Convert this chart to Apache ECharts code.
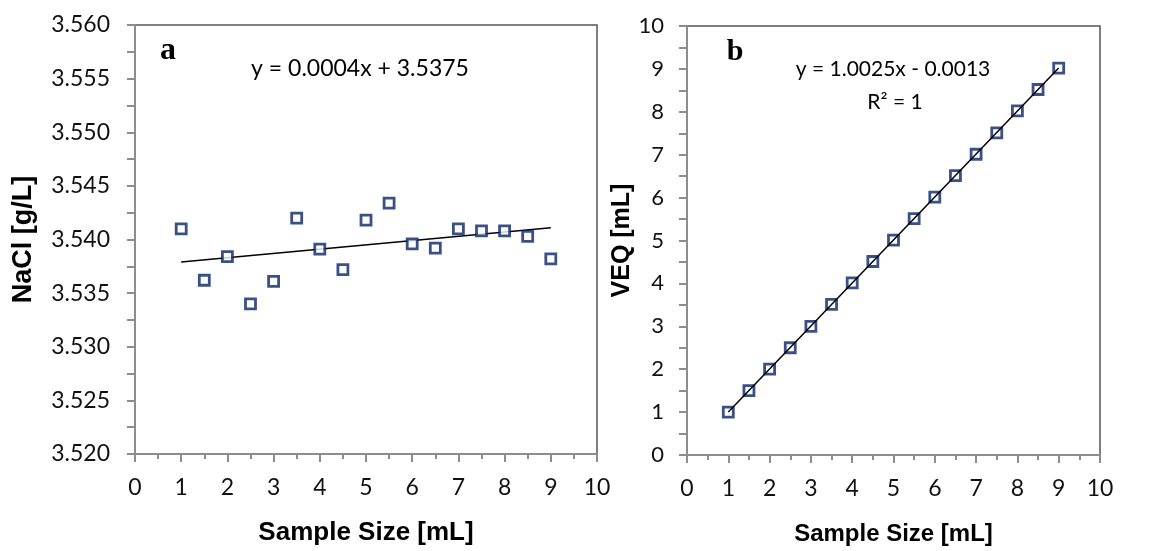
<!DOCTYPE html>
<html><head><meta charset="utf-8">
<script src="https://cdn.jsdelivr.net/npm/echarts@6/dist/echarts.min.js"></script>
<style>html,body{margin:0;padding:0;background:#fff}#c{width:1176px;height:551px}</style>
</head><body><div id="c"></div>
<script>
const sampleSize = [1, 1.5, 2, 2.5, 3, 3.5, 4, 4.5, 5, 5.5, 6, 6.5, 7, 7.5, 8, 8.5, 9];
const naclValues = [3.5410, 3.5362, 3.5384, 3.5340, 3.5361, 3.5420, 3.5391, 3.5372, 3.5418, 3.5434, 3.5396, 3.5392, 3.5410, 3.5408, 3.5408, 3.5403, 3.5382];
const veqValues = [1.00, 1.50, 2.00, 2.50, 3.00, 3.51, 4.01, 4.51, 5.01, 5.51, 6.01, 6.51, 7.01, 7.51, 8.02, 8.52, 9.02];
const trendA = { slope: 0.0004, intercept: 3.5375, label: 'y = 0.0004x + 3.5375' };
const trendB = { slope: 1.0025, intercept: -0.0013, label: 'y = 1.0025x - 0.0013', r2: 'R² = 1' };
const xTitle = 'Sample Size [mL]';
const yTitleA = 'NaCl [g/L]';
const yTitleB = 'VEQ [mL]';

const chart = echarts.init(document.getElementById('c'), null, {renderer: 'canvas'});
const navy = '#0a2566';
const axisGray = '#8c8c8c';

function xAxis(idx, tickSize, titleSize, labelMargin, nameGap) {
  return {
    gridIndex: idx, type: 'value', min: 0, max: 10, interval: 1,
    name: xTitle, nameLocation: 'middle', nameGap: nameGap,
    nameTextStyle: {fontFamily: 'Liberation Sans', fontSize: titleSize, fontWeight: 'bold', color: '#000'},
    axisLine: {show: true, onZero: false, lineStyle: {color: axisGray, width: 2}},
    axisTick: {show: true, length: 8, lineStyle: {color: axisGray, width: 2}},
    minorTick: {show: true, splitNumber: 2, length: 5, lineStyle: {color: axisGray, width: 2}},
    axisLabel: {margin: labelMargin, fontFamily: 'Lato', fontSize: tickSize, color: '#111'},
    splitLine: {show: false}
  };
}
function yAxis(idx, min, max, interval, name, fmt, tickSize, titleSize, labelMargin, nameGap) {
  return {
    gridIndex: idx, type: 'value', min: min, max: max, interval: interval,
    name: name, nameLocation: 'middle', nameGap: nameGap,
    nameTextStyle: {fontFamily: 'Liberation Sans', fontSize: titleSize, fontWeight: 'bold', color: '#000'},
    axisLine: {show: true, onZero: false, lineStyle: {color: axisGray, width: 2}},
    axisTick: {show: true, length: 8, lineStyle: {color: axisGray, width: 2}},
    minorTick: {show: true, splitNumber: 2, length: 8, lineStyle: {color: axisGray, width: 2}},
    axisLabel: {margin: labelMargin, formatter: fmt, fontFamily: 'Lato', fontSize: tickSize, color: '#111'},
    splitLine: {show: false}
  };
}

const trendLine = (t, x0, x1) => [[x0, t.slope * x0 + t.intercept], [x1, t.slope * x1 + t.intercept]];

chart.setOption({
  animation: false,
  grid: [
    {left: 135, top: 25, width: 462, height: 433, show: true, borderColor: '#555', borderWidth: 1.5, containLabel: false},
    {left: 687, top: 26, width: 413, height: 432, show: true, borderColor: '#555', borderWidth: 1.5, containLabel: false}
  ],
  xAxis: [xAxis(0, 23, 26, 22, 66), xAxis(1, 23, 24, 22, 67)],
  yAxis: [
    yAxis(0, 3.52, 3.56, 0.005, yTitleA, v => v.toFixed(3), 23, 27, 25, 98),
    yAxis(1, 0, 10, 1, yTitleB, v => String(v), 22, 25, 23, 34)
  ],
  series: [
    {type: 'line', xAxisIndex: 0, yAxisIndex: 0, data: trendLine(trendA, 1, 9), showSymbol: false, symbol: 'none',
     lineStyle: {color: '#000', width: 1.5}, z: 1},
    {type: 'scatter', xAxisIndex: 0, yAxisIndex: 0, data: sampleSize.map((x, i) => [x, naclValues[i]]),
     symbol: 'rect', symbolSize: 10, itemStyle: {color: '#fff', borderColor: navy, borderWidth: 2.8}, z: 3},
    {type: 'line', xAxisIndex: 1, yAxisIndex: 1, data: trendLine(trendB, 1, 9), showSymbol: false, symbol: 'none',
     lineStyle: {color: '#000', width: 1.5}, z: 4},
    {type: 'scatter', xAxisIndex: 1, yAxisIndex: 1, data: sampleSize.map((x, i) => [x, veqValues[i]]),
     symbol: 'rect', symbolSize: 10, itemStyle: {color: 'rgba(255,255,255,0)', borderColor: navy, borderWidth: 2.8}, z: 3}
  ],
  graphic: [
    {type: 'text', x: 168, y: 67, style: {text: 'a', font: 'bold 32px "Liberation Serif"', fill: '#000', textAlign: 'center', textVerticalAlign: 'bottom'}},
    {type: 'text', x: 360, y: 80, style: {text: trendA.label, font: '23px Lato', fill: '#000', textAlign: 'center', textVerticalAlign: 'bottom'}},
    {type: 'text', x: 735, y: 67, style: {text: 'b', font: 'bold 30px "Liberation Serif"', fill: '#000', textAlign: 'center', textVerticalAlign: 'bottom'}},
    {type: 'text', x: 893, y: 80, style: {text: trendB.label, font: '21px Lato', fill: '#000', textAlign: 'center', textVerticalAlign: 'bottom'}},
    {type: 'text', x: 895, y: 113, style: {text: trendB.r2, font: '21px Lato', fill: '#000', textAlign: 'center', textVerticalAlign: 'bottom'}}
  ]
});
</script></body></html>
